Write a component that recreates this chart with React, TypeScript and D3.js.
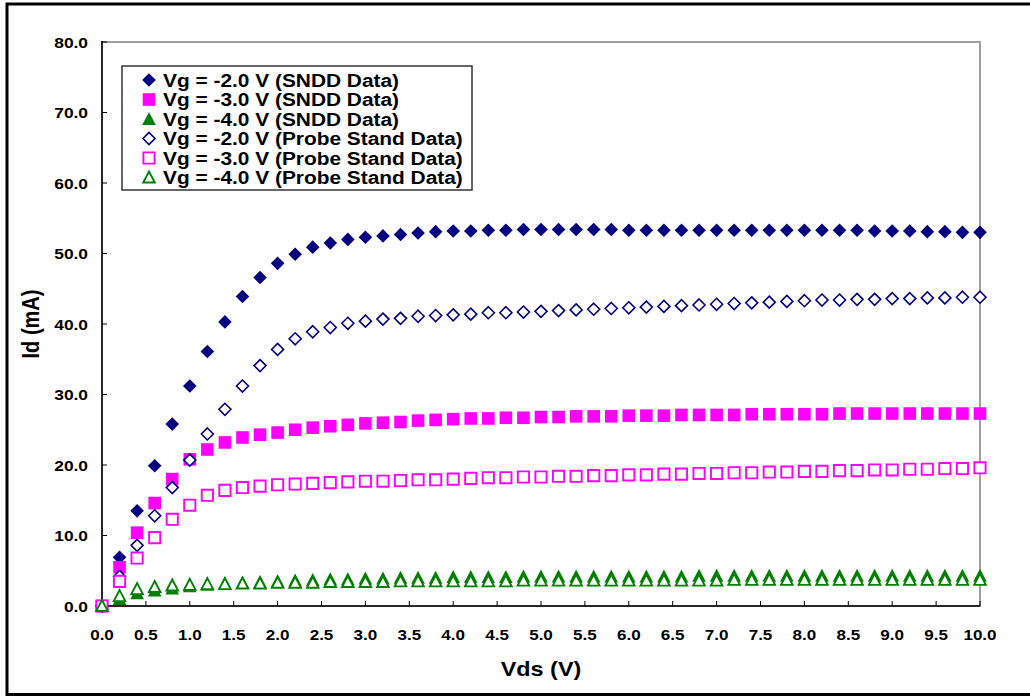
import React from "react";
import * as d3 from "d3";

const vds: number[] = d3.range(0, 51).map((i) => +(i * 0.2).toFixed(1));

const snddVg2: number[] = [0, 6.9, 13.5, 19.9, 25.8, 31.2, 36.1, 40.3, 43.9, 46.6, 48.6, 49.9, 50.9, 51.5, 52.0, 52.3, 52.5, 52.7, 52.9, 53.1, 53.2, 53.2, 53.3, 53.3, 53.4, 53.4, 53.4, 53.4, 53.4, 53.4, 53.3, 53.3, 53.3, 53.3, 53.3, 53.3, 53.3, 53.3, 53.3, 53.3, 53.3, 53.3, 53.3, 53.3, 53.2, 53.2, 53.2, 53.1, 53.1, 53.0, 53.0];
const snddVg3: number[] = [0, 5.5, 10.4, 14.6, 18.0, 20.8, 22.2, 23.2, 23.9, 24.3, 24.6, 25.0, 25.3, 25.5, 25.7, 25.9, 26.0, 26.1, 26.3, 26.4, 26.5, 26.6, 26.6, 26.7, 26.7, 26.8, 26.8, 26.9, 26.9, 26.9, 27.0, 27.0, 27.0, 27.1, 27.1, 27.1, 27.1, 27.2, 27.2, 27.2, 27.2, 27.2, 27.3, 27.3, 27.3, 27.3, 27.3, 27.3, 27.3, 27.3, 27.3];
const snddVg4: number[] = [0, 1.0, 1.8, 2.2, 2.5, 2.8, 3.0, 3.2, 3.3, 3.4, 3.5, 3.6, 3.7, 3.8, 3.8, 3.9, 3.9, 4.0, 4.0, 4.0, 4.1, 4.1, 4.1, 4.1, 4.2, 4.2, 4.2, 4.2, 4.2, 4.2, 4.2, 4.2, 4.2, 4.2, 4.3, 4.3, 4.3, 4.3, 4.3, 4.3, 4.3, 4.3, 4.3, 4.3, 4.3, 4.3, 4.3, 4.3, 4.3, 4.3, 4.3];
const probeVg2: number[] = [0, 4.2, 8.6, 12.8, 16.8, 20.7, 24.4, 27.9, 31.2, 34.1, 36.4, 37.9, 38.9, 39.5, 40.1, 40.4, 40.7, 40.8, 41.1, 41.2, 41.3, 41.4, 41.6, 41.6, 41.7, 41.8, 41.9, 42.0, 42.1, 42.2, 42.3, 42.4, 42.5, 42.6, 42.7, 42.8, 42.9, 43.0, 43.1, 43.2, 43.3, 43.4, 43.4, 43.5, 43.5, 43.6, 43.6, 43.7, 43.7, 43.8, 43.8];
const probeVg3: number[] = [0, 3.5, 6.8, 9.7, 12.3, 14.3, 15.7, 16.4, 16.8, 17.0, 17.2, 17.3, 17.4, 17.5, 17.6, 17.7, 17.7, 17.8, 17.9, 17.9, 18.0, 18.1, 18.2, 18.2, 18.3, 18.3, 18.4, 18.4, 18.5, 18.5, 18.6, 18.6, 18.7, 18.7, 18.8, 18.8, 18.9, 18.9, 19.0, 19.0, 19.1, 19.1, 19.2, 19.2, 19.3, 19.3, 19.4, 19.4, 19.5, 19.5, 19.6];
const probeVg4: number[] = [0, 1.4, 2.4, 2.7, 2.9, 3.0, 3.1, 3.1, 3.2, 3.2, 3.3, 3.3, 3.3, 3.4, 3.4, 3.4, 3.4, 3.5, 3.5, 3.5, 3.5, 3.5, 3.5, 3.5, 3.6, 3.6, 3.6, 3.6, 3.6, 3.6, 3.6, 3.6, 3.6, 3.6, 3.6, 3.6, 3.7, 3.7, 3.7, 3.7, 3.7, 3.7, 3.7, 3.7, 3.7, 3.7, 3.7, 3.7, 3.7, 3.7, 3.7];

const seriesLabels: string[] = [
  "Vg = -2.0 V (SNDD Data)",
  "Vg = -3.0 V (SNDD Data)",
  "Vg = -4.0 V (SNDD Data)",
  "Vg = -2.0 V (Probe Stand Data)",
  "Vg = -3.0 V (Probe Stand Data)",
  "Vg = -4.0 V (Probe Stand Data)",
];
const xTicks: number[] = d3.range(0, 21).map((i) => i * 0.5);
const yTicks: number[] = [0, 10, 20, 30, 40, 50, 60, 70, 80];
const xTitle = "Vds (V)";
const yTitle = "Id (mA)";

const NAVY = "#000080";
const MAGENTA = "#FF00FF";
const GREEN = "#008000";

type Shape = "diamond" | "square" | "triangle";
interface Series { values: number[]; shape: Shape; color: string; filled: boolean; }

const series: Series[] = [
  { values: snddVg2, shape: "diamond", color: NAVY, filled: true },
  { values: snddVg3, shape: "square", color: MAGENTA, filled: true },
  { values: snddVg4, shape: "triangle", color: GREEN, filled: true },
  { values: probeVg2, shape: "diamond", color: NAVY, filled: false },
  { values: probeVg3, shape: "square", color: MAGENTA, filled: false },
  { values: probeVg4, shape: "triangle", color: GREEN, filled: false },
];

function markerPath(shape: Shape, filled: boolean): string {
  if (shape === "diamond") {
    const r = filled ? 6.8 : 6.0;
    return `M0,${-r}L${r},0L0,${r}L${-r},0Z`;
  }
  if (shape === "square") {
    const h = filled ? 6.3 : 5.6;
    return `M${-h},${-h}H${h}V${h}H${-h}Z`;
  }
  const w = filled ? 6.8 : 5.8;
  const t = filled ? 7 : 6;
  const b = filled ? 6 : 5;
  return `M0,${-t}L${w},${b}L${-w},${b}Z`;
}

function Marker({ s, x, y }: { s: Series; x: number; y: number }) {
  return (
    <path
      d={markerPath(s.shape, s.filled)}
      transform={`translate(${x},${y})`}
      fill={s.filled ? s.color : "#ffffff"}
      stroke={s.color}
      strokeWidth={s.filled ? 0 : s.shape === "diamond" ? 1.6 : 1.9}
    />
  );
}

const FONT = "'Liberation Sans', Arial, Helvetica, sans-serif";

export default function App() {
  const W = 1030;
  const H = 696;
  const x = d3.scaleLinear().domain([0, 10]).range([102, 980]);
  const y = d3.scaleLinear().domain([0, 80]).range([606, 42]);

  const legX = 122, legY = 66, legW = 350, legH = 124;

  return (
    <svg
      width={W}
      height={H}
      style={{ position: "absolute", left: 0, top: 0, background: "#fff" }}
      fontFamily={FONT}
    >
      <rect x={0} y={0} width={W} height={H} fill="#fff" />
      {/* outer frame */}
      <rect x={7} y={4} width={1040} height={690.5} fill="none" stroke="#000" strokeWidth={3} />

      {/* plot border */}
      <rect x={x(0)} y={y(80)} width={x(10) - x(0)} height={y(0) - y(80)} fill="none" stroke="#a0a0a0" strokeWidth={2} />
      <line x1={x(0)} x2={x(0)} y1={y(80) - 1} y2={y(0)} stroke="#000" strokeWidth={1.5} />
      <line x1={x(0)} x2={x(10)} y1={y(0)} y2={y(0)} stroke="#000" strokeWidth={1.5} />

      {/* ticks */}
      {xTicks.map((t) => (
        <g key={"xt" + t}>
          <line x1={x(t)} x2={x(t)} y1={y(0)} y2={y(0) - 5} stroke="#000" strokeWidth={1} />
          <text
            transform={`translate(${x(t)},${640}) scale(1.1,1)`}
            textAnchor="middle"
            fontSize={15.5}
            fontWeight="bold"
          >
            {t.toFixed(1)}
          </text>
        </g>
      ))}
      {yTicks.map((t) => (
        <g key={"yt" + t}>
          <line x1={x(0)} x2={x(0) + 5} y1={y(t)} y2={y(t)} stroke="#000" strokeWidth={1} />
          <text
            transform={`translate(${88},${y(t) + 5.5}) scale(1.12,1)`}
            textAnchor="end"
            fontSize={15.5}
            fontWeight="bold"
          >
            {t.toFixed(1)}
          </text>
        </g>
      ))}

      {/* axis titles */}
      <text
        transform={`translate(${541},${676}) scale(1.17,1)`}
        textAnchor="middle"
        fontSize={20}
        fontWeight="bold"
      >
        {xTitle}
      </text>
      <text
        transform={`translate(${39},${324}) scale(1.15,1) rotate(-90)`}
        textAnchor="middle"
        fontSize={20}
        fontWeight="bold"
      >
        {yTitle}
      </text>

      {/* data */}
      {series.map((s, si) => (
        <g key={"s" + si}>
          {s.values.map((v, i) => (
            <Marker key={i} s={s} x={x(vds[i])} y={y(v)} />
          ))}
        </g>
      ))}

      {/* legend */}
      <rect x={legX} y={legY} width={legW} height={legH} fill="#fff" stroke="#333" strokeWidth={1.5} />
      {series.map((s, i) => {
        const cy = 80 + i * 19.5;
        return (
          <g key={"lg" + i}>
            <Marker s={s} x={149} y={cy} />
            <text
              transform={`translate(${163},${cy + 6.5}) scale(1.16,1)`}
              fontSize={18}
              fontWeight="bold"
            >
              {seriesLabels[i]}
            </text>
          </g>
        );
      })}
    </svg>
  );
}
